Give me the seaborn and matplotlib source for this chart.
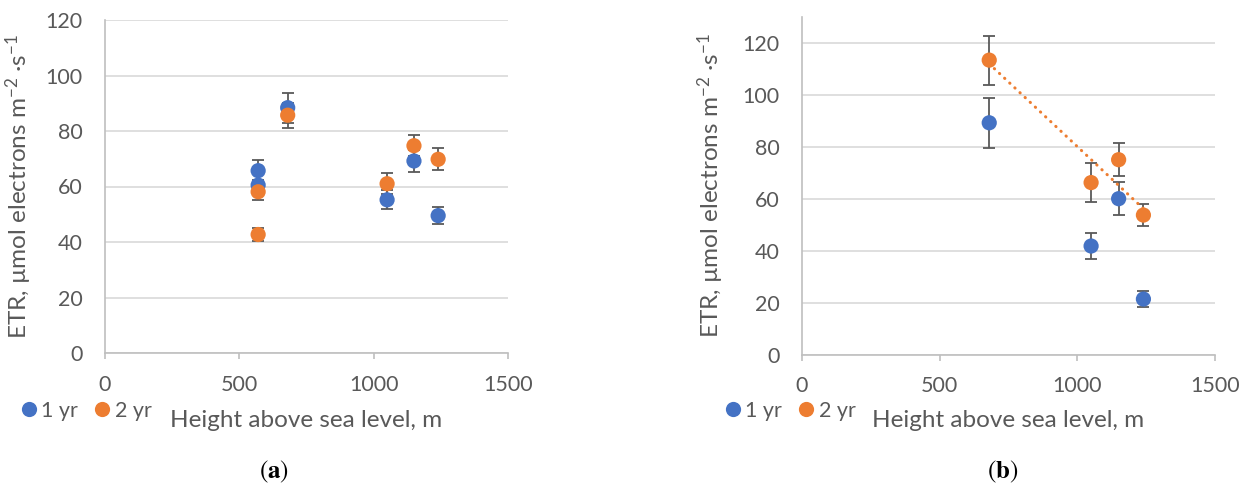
import numpy as np
import pandas as pd
import matplotlib
matplotlib.use("Agg")
import matplotlib.pyplot as plt
import seaborn as sns

# panel (a)
height_a = [570, 570, 680, 1050, 1150, 1240]
etr_a_1yr = [65.7, 60.5, 88.4, 55.2, 69.2, 49.5]
err_a_1yr = [3.8, 2.0, 5.4, 3.4, 4.1, 3.0]
etr_a_2yr = [58.1, 42.7, 85.7, 61.0, 74.7, 69.8]
err_a_2yr = [2.8, 2.3, 4.5, 3.8, 3.7, 3.9]

# panel (b)
height_b = [680, 1050, 1150, 1240]
etr_b_1yr = [89.2, 41.8, 60.0, 21.4]
err_b_1yr = [9.6, 5.0, 6.3, 3.2]
etr_b_2yr = [113.3, 66.2, 75.0, 53.7]
err_b_2yr = [9.4, 7.4, 6.4, 4.3]

groups = ["1 yr", "2 yr"]
xticks = [0, 500, 1000, 1500]
yticks = [0, 20, 40, 60, 80, 100, 120]

sns.set_style("white")
plt.rcParams["font.family"] = ["Lato", "DejaVu Sans"]
plt.rcParams["mathtext.fontset"] = "custom"
plt.rcParams["mathtext.rm"] = "Lato"
plt.rcParams["mathtext.it"] = "Lato:italic"
plt.rcParams["mathtext.bf"] = "Lato:bold"

blue = "#4472C4"
orange = "#ED7D31"
txt = "#595959"
pal = {"1 yr": blue, "2 yr": orange}
ylab = "ETR, µmol electrons m$^{-2}$ ·s$^{-1}$"
xlab = "Height above sea level, m"


def make_df(h, e1, s1, e2, s2):
    d1 = pd.DataFrame({"height": h, "etr": e1, "err": s1, "age": groups[0]})
    d2 = pd.DataFrame({"height": h, "etr": e2, "err": s2, "age": groups[1]})
    return pd.concat([d1, d2], ignore_index=True)


df_a = make_df(height_a, etr_a_1yr, err_a_1yr, etr_a_2yr, err_a_2yr)
df_b = make_df(height_b, etr_b_1yr, err_b_1yr, etr_b_2yr, err_b_2yr)

fig = plt.figure(figsize=(12.49, 4.87), dpi=100)
ax_a = fig.add_axes([105 / 1249, 1 - 353 / 487, 403 / 1249, 333 / 487])
ax_b = fig.add_axes([802 / 1249, 1 - 354.7 / 487, 413 / 1249, 338 / 487])


def draw(ax, df, ymax, ylab_x, leg_x, leg_y, xlab_y):
    for g in groups:
        sub = df[df["age"] == g]
        ax.errorbar(sub["height"], sub["etr"], yerr=sub["err"], fmt="none",
                    ecolor=txt, elinewidth=1.3, capsize=4, capthick=1.3, zorder=2)
    sns.scatterplot(data=df, x="height", y="etr", hue="age", palette=pal,
                    s=120, linewidth=0, ax=ax, zorder=3)
    ax.set_xlim(0, 1500)
    ax.set_ylim(0, ymax)
    ax.set_xticks(xticks)
    ax.set_yticks(yticks)
    ax.grid(axis="y", color="#D9D9D9", lw=1.2)
    ax.set_axisbelow(True)
    for s in ["top", "right"]:
        ax.spines[s].set_visible(False)
    for s in ["left", "bottom"]:
        ax.spines[s].set_color("#BFBFBF")
        ax.spines[s].set_linewidth(1.2)
    ax.tick_params(axis="x", length=4, width=1.2, color="#BFBFBF", pad=11.5,
                   labelsize=15.5, labelcolor=txt, direction="out", bottom=True)
    ax.tick_params(axis="y", length=0, pad=16, labelsize=15.5, labelcolor=txt)
    ax.set_xlabel(xlab, fontsize=17.5, color=txt)
    ax.set_ylabel(ylab, fontsize=17.5, color=txt)
    ax.xaxis.set_label_coords(0.5, xlab_y)
    ax.yaxis.set_label_coords(ylab_x, 0.5)
    ax.legend(loc="center left", bbox_to_anchor=(leg_x, leg_y), ncol=2,
              frameon=False, fontsize=15.5, labelcolor=txt, borderaxespad=0,
              borderpad=0, handlelength=0.8, handletextpad=0.2, columnspacing=0.7)


draw(ax_a, df_a, 120, -0.176, -0.211, -0.173, -0.172)
draw(ax_b, df_b, 130, -0.184, -0.189, -0.166, -0.165)

# linear trend for 2 yr in panel (b)
sns.regplot(x=np.array(height_b), y=np.array(etr_b_2yr), scatter=False, ci=None,
            color=orange, ax=ax_b,
            line_kws={"ls": (0, (0.1, 2.2)), "lw": 2.2, "dash_capstyle": "round", "zorder": 4})
ax_b.set_xlabel(xlab, fontsize=17.5, color=txt)
ax_b.set_ylabel(ylab, fontsize=17.5, color=txt)

fig.text(274 / 1249, 1 - 472 / 487, r"($\mathbf{a}$)", ha="center", va="center",
         fontsize=18, family="STIXGeneral", math_fontfamily="stix", color="black")
fig.text(1003 / 1249, 1 - 472 / 487, r"($\mathbf{b}$)", ha="center", va="center",
         fontsize=18, family="STIXGeneral", math_fontfamily="stix", color="black")

fig.savefig("out.png", dpi=100)
